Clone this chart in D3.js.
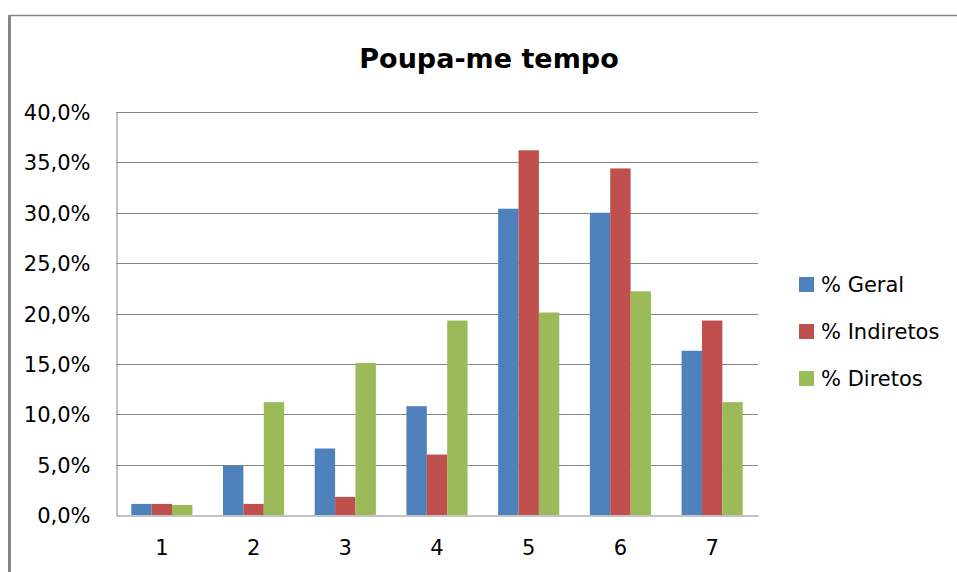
<!DOCTYPE html>
<html>
<head>
<meta charset="utf-8">
<script src="https://cdn.jsdelivr.net/npm/d3@7"></script>
<style>
  body { margin: 0; background: #fff; }
  text { font-family: "DejaVu Sans", "Liberation Sans", sans-serif; fill: #000; }
</style>
</head>
<body>
<svg id="chart" width="957" height="572"></svg>
<script>
// chart data
var categories = ["1", "2", "3", "4", "5", "6", "7"];
var seriesNames = ["% Geral", "% Indiretos", "% Diretos"];
var geral = [1.1, 4.9, 6.6, 10.8, 30.4, 30.0, 16.3];
var indiretos = [1.1, 1.1, 1.8, 6.0, 36.2, 34.4, 19.3];
var diretos = [1.0, 11.2, 15.1, 19.3, 20.1, 22.2, 11.2];
var yTicks = [0, 5, 10, 15, 20, 25, 30, 35, 40];
var colors = ["#4F81BD", "#C0504D", "#9BBB59"];

var series = [geral, indiretos, diretos];

var svg = d3.select("#chart");

// outer frame (cropped chart border)
svg.append("line").attr("x1", 9.5).attr("x2", 957).attr("y1", 15.5).attr("y2", 15.5)
  .attr("stroke", "#868686").attr("stroke-width", 1.5);
svg.append("line").attr("x1", 9.5).attr("x2", 9.5).attr("y1", 15).attr("y2", 572)
  .attr("stroke", "#868686").attr("stroke-width", 3);

var plot = { left: 116, right: 758, top: 112, bottom: 515 };

var x = d3.scaleBand().domain(categories).range([plot.left, plot.right]).paddingInner(0).paddingOuter(0);
var y = d3.scaleLinear().domain([0, 40]).range([plot.bottom, plot.top]);

// Excel gap width 150% -> 3 bars + 1.5 bar gap
var barW = x.bandwidth() / 4.5;
var xs = d3.scaleBand().domain(d3.range(3)).range([0.75 * barW, 3.75 * barW]);

// gridlines
svg.append("g").selectAll("line").data(yTicks.slice(1)).enter()
  .append("line")
  .attr("x1", plot.left).attr("x2", plot.right)
  .attr("y1", function(d) { return Math.round(y(d)) + 0.5; })
  .attr("y2", function(d) { return Math.round(y(d)) + 0.5; })
  .attr("stroke", "#868686").attr("stroke-width", 1);

// bars
series.forEach(function(vals, si) {
  svg.append("g").selectAll("rect").data(vals).enter()
    .append("rect")
    .attr("x", function(d, i) { return x(categories[i]) + xs(si); })
    .attr("width", xs.bandwidth())
    .attr("y", function(d) { return y(d); })
    .attr("height", function(d) { return plot.bottom - y(d); })
    .attr("fill", colors[si]);
});

// axes
var yAxis = d3.axisLeft(y).tickValues(yTicks).tickSize(0).tickPadding(26)
  .tickFormat(function(d) { return d3.format(".1f")(d).replace(".", ",") + "%"; });
var gy = svg.append("g").attr("transform", "translate(" + (plot.left + 0.5) + ",0)").call(yAxis);
gy.select(".domain").attr("stroke", "#868686");
gy.selectAll("text").style("font-size", "21px").attr("dy", "0.36em");

var xAxis = d3.axisBottom(x).tickSize(0).tickPadding(25);
var gx = svg.append("g").attr("transform", "translate(0," + (plot.bottom + 0.5) + ")").call(xAxis);
gx.select(".domain").attr("stroke", "#868686");
gx.selectAll("text").style("font-size", "21px");

// title
svg.append("text").attr("x", 489).attr("y", 68).attr("text-anchor", "middle")
  .style("font-size", "27px").style("font-weight", "bold").text("Poupa-me tempo");

// legend
var legend = svg.append("g").selectAll("g").data(seriesNames).enter()
  .append("g")
  .attr("transform", function(d, i) { return "translate(799," + (277 + i * 47) + ")"; });
legend.append("rect").attr("width", 15).attr("height", 15)
  .attr("fill", function(d, i) { return colors[i]; });
legend.append("text").attr("x", 22).attr("y", 7.5).attr("dy", "0.36em")
  .style("font-size", "21px").text(function(d) { return d; });
</script>
</body>
</html>
